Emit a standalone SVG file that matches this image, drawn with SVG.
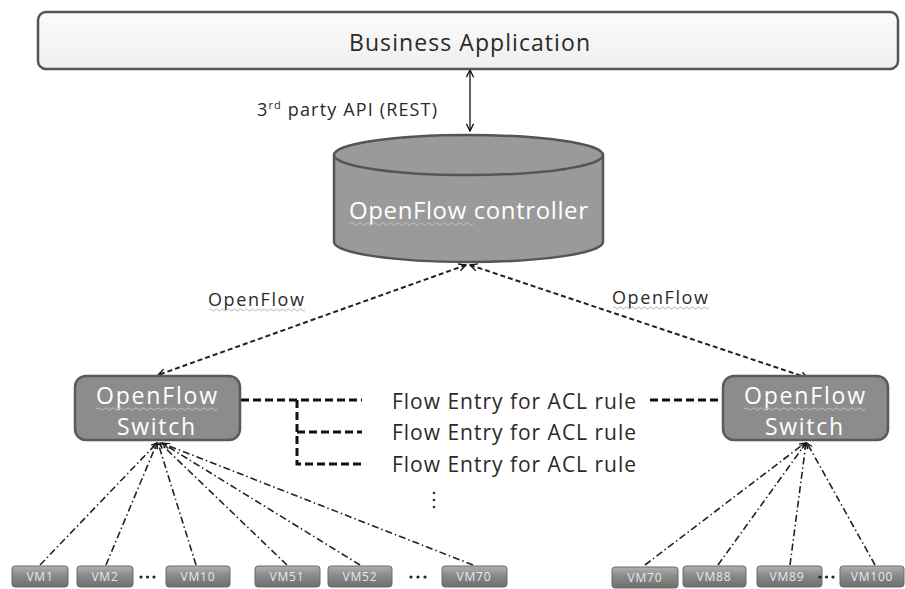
<svg xmlns="http://www.w3.org/2000/svg" width="905" height="589" viewBox="0 0 905 589">
  <style>
    text { font-family: "Open Sans", "Noto Sans", "Liberation Sans", sans-serif; }
    .dark { fill: #2a2a2a; }
    .white { fill: #ffffff; }
    .of { fill: none; stroke: #222; stroke-width: 2; stroke-dasharray: 5 3; }
    .acl { fill: none; stroke: #111; stroke-width: 3; stroke-dasharray: 8 4; }
    .vmlink { fill: none; stroke: #222; stroke-width: 1.6; stroke-dasharray: 7 3 1.5 3; }
    .squig { fill: none; stroke: #b8b8b8; stroke-width: 1; }
    .switch { fill: #8c8c8c; stroke: #5a5a5a; stroke-width: 2.5; }
    .vm { fill: url(#vmgrad); stroke: #6a6a6a; stroke-width: 1; }
    .vmtext { fill: #e8e8e8; font-size: 12px; text-anchor: middle; letter-spacing: 0.8px; }
  </style>
  <defs>
    <marker id="head" viewBox="0 0 10 10" refX="9" refY="5" markerWidth="9" markerHeight="9" orient="auto-start-reverse" markerUnits="userSpaceOnUse">
      <path d="M1,1 L9,5 L1,9" fill="none" stroke="#111" stroke-width="1.5"/>
    </marker>
    <marker id="headSmall" viewBox="0 0 10 10" refX="9" refY="5" markerWidth="7" markerHeight="7" orient="auto" markerUnits="userSpaceOnUse">
      <path d="M1,1 L9,5 L1,9" fill="none" stroke="#111" stroke-width="1.6"/>
    </marker>
    <linearGradient id="vmgrad" x1="0" y1="0" x2="0" y2="1">
      <stop offset="0" stop-color="#b0b0b0"/>
      <stop offset="0.45" stop-color="#8a8a8a"/>
      <stop offset="1" stop-color="#6e6e6e"/>
    </linearGradient>
    <linearGradient id="bizgrad" x1="0" y1="0" x2="0" y2="1">
      <stop offset="0" stop-color="#fbfbfb"/>
      <stop offset="1" stop-color="#efefef"/>
    </linearGradient>
    <!-- spell-check style squiggle, 96px long -->
    <path id="wave" d="M0,0 q1.5,-2 3,0 t3,0 t3,0 t3,0 t3,0 t3,0 t3,0 t3,0 t3,0 t3,0 t3,0 t3,0 t3,0 t3,0 t3,0 t3,0 t3,0 t3,0 t3,0 t3,0 t3,0 t3,0 t3,0 t3,0 t3,0 t3,0 t3,0 t3,0 t3,0 t3,0 t3,0 t3,0"/>
  </defs>

  <!-- Connectors -->
  <g id="connectors">
    <!-- REST API link -->
    <line x1="470" y1="70" x2="470" y2="131" stroke="#111" stroke-width="1.3" marker-start="url(#head)" marker-end="url(#head)"/>
    <!-- OpenFlow channels -->
    <line class="of" x1="466" y1="265" x2="158" y2="375" marker-start="url(#head)" marker-end="url(#head)"/>
    <line class="of" x1="470" y1="265" x2="808" y2="378" marker-start="url(#head)" marker-end="url(#head)"/>
    <!-- ACL flow entry bracket -->
    <path class="acl" d="M241,400 H362 M297,400 V464 H362 M297,432 H362"/>
    <line class="acl" x1="650" y1="400" x2="722" y2="400"/>
    <!-- VM links, left switch -->
    <line class="vmlink" x1="40" y1="565" x2="157" y2="443" marker-end="url(#headSmall)"/>
    <line class="vmlink" x1="106" y1="565" x2="157" y2="443" marker-end="url(#headSmall)"/>
    <line class="vmlink" x1="196" y1="565" x2="158" y2="443" marker-end="url(#headSmall)"/>
    <line class="vmlink" x1="287" y1="565" x2="160" y2="443" marker-end="url(#headSmall)"/>
    <line class="vmlink" x1="360" y1="565" x2="162" y2="443" marker-end="url(#headSmall)"/>
    <line class="vmlink" x1="473" y1="565" x2="164" y2="444" marker-end="url(#headSmall)"/>
    <!-- VM links, right switch -->
    <line class="vmlink" x1="645" y1="565" x2="805" y2="443" marker-end="url(#headSmall)"/>
    <line class="vmlink" x1="718" y1="565" x2="806" y2="443" marker-end="url(#headSmall)"/>
    <line class="vmlink" x1="790" y1="565" x2="806" y2="443" marker-end="url(#headSmall)"/>
    <line class="vmlink" x1="875" y1="565" x2="807" y2="443" marker-end="url(#headSmall)"/>
  </g>

  <!-- Labels on connectors -->
  <g id="labels">
    <text x="257" y="116" font-size="18" class="dark" textLength="180" lengthAdjust="spacing">3<tspan font-size="11" dy="-7">rd</tspan><tspan dy="7"> party API (REST)</tspan></text>
    <text x="208" y="306" font-size="18" class="dark" textLength="96" lengthAdjust="spacing">OpenFlow</text>
    <use href="#wave" class="squig" x="209" y="310"/>
    <text x="612" y="304" font-size="18" class="dark" textLength="96" lengthAdjust="spacing">OpenFlow</text>
    <use href="#wave" class="squig" x="613" y="308"/>
    <text x="392" y="409" font-size="21" class="dark" textLength="244" lengthAdjust="spacing">Flow Entry for ACL rule</text>
    <text x="392" y="440" font-size="21" class="dark" textLength="244" lengthAdjust="spacing">Flow Entry for ACL rule</text>
    <text x="392" y="472" font-size="21" class="dark" textLength="244" lengthAdjust="spacing">Flow Entry for ACL rule</text>
    <g fill="#333">
      <circle cx="434" cy="493" r="1.3"/>
      <circle cx="434" cy="500" r="1.3"/>
      <circle cx="434" cy="507" r="1.3"/>
    </g>
  </g>

  <!-- Business application -->
  <g id="business-app">
    <rect x="38" y="12" width="860" height="57" rx="8" fill="url(#bizgrad)" stroke="#555" stroke-width="2.5"/>
    <text x="349" y="51" font-size="23" class="dark" textLength="241" lengthAdjust="spacing">Business Application</text>
  </g>

  <!-- Controller -->
  <g id="controller">
    <path d="M334,155 V242 A134.5,20 0 0 0 603,242 V155" fill="#9a9a9a" stroke="#555" stroke-width="2.5"/>
    <ellipse cx="468.5" cy="155" rx="134.5" ry="20" fill="#9a9a9a" stroke="#555" stroke-width="2.5"/>
    <text x="349" y="219" font-size="24" class="white" textLength="239" lengthAdjust="spacing">OpenFlow controller</text>
    <use href="#wave" class="squig" transform="translate(350,224) scale(1.28,1)"/>
  </g>

  <!-- Left switch -->
  <g id="switch-left">
    <rect class="switch" x="75" y="376" width="165" height="64" rx="11"/>
    <text x="96" y="404" font-size="23" class="white" textLength="121" lengthAdjust="spacing">OpenFlow</text>
    <text x="117" y="435" font-size="23" class="white" textLength="78" lengthAdjust="spacing">Switch</text>
    <use href="#wave" class="squig" transform="translate(96,409) scale(1.26,1)"/>
  </g>

  <!-- Right switch -->
  <g id="switch-right">
    <rect class="switch" x="723" y="376" width="165" height="64" rx="11"/>
    <text x="744" y="404" font-size="23" class="white" textLength="121" lengthAdjust="spacing">OpenFlow</text>
    <text x="765" y="435" font-size="23" class="white" textLength="78" lengthAdjust="spacing">Switch</text>
    <use href="#wave" class="squig" transform="translate(744,409) scale(1.26,1)"/>
  </g>

  <!-- Virtual machines, left switch -->
  <g id="vm1"><rect class="vm" x="12" y="566" width="56" height="21" rx="3"/><text class="vmtext" x="40" y="581">VM1</text></g>
  <g id="vm2"><rect class="vm" x="77" y="566" width="56" height="21" rx="3"/><text class="vmtext" x="105" y="581">VM2</text></g>
  <g id="vm10"><rect class="vm" x="166" y="566" width="64" height="21" rx="3"/><text class="vmtext" x="198" y="581">VM10</text></g>
  <g id="vm51"><rect class="vm" x="255" y="566" width="65" height="21" rx="3"/><text class="vmtext" x="287" y="581">VM51</text></g>
  <g id="vm52"><rect class="vm" x="328" y="566" width="64" height="21" rx="3"/><text class="vmtext" x="360" y="581">VM52</text></g>
  <g id="vm70a"><rect class="vm" x="442" y="566" width="65" height="21" rx="3"/><text class="vmtext" x="474" y="581">VM70</text></g>
  <g fill="#222">
    <circle cx="141" cy="577" r="1.6"/><circle cx="147.5" cy="577" r="1.6"/><circle cx="154" cy="577" r="1.6"/>
    <circle cx="411" cy="577" r="1.6"/><circle cx="418" cy="577" r="1.6"/><circle cx="425" cy="577" r="1.6"/>
  </g>

  <!-- Virtual machines, right switch -->
  <g id="vm70b"><rect class="vm" x="612" y="567" width="66" height="21" rx="3"/><text class="vmtext" x="645" y="582">VM70</text></g>
  <g id="vm88"><rect class="vm" x="683" y="566" width="63" height="21" rx="3"/><text class="vmtext" x="714" y="581">VM88</text></g>
  <g id="vm89"><rect class="vm" x="757" y="566" width="65" height="21" rx="3"/><text class="vmtext" x="787" y="581">VM89</text></g>
  <g id="vm100"><rect class="vm" x="840" y="566" width="64" height="21" rx="3"/><text class="vmtext" x="872" y="581">VM100</text></g>
  <g fill="#222">
    <circle cx="820" cy="577" r="1.6"/><circle cx="826.5" cy="577" r="1.6"/><circle cx="833" cy="577" r="1.6"/>
  </g>
</svg>
